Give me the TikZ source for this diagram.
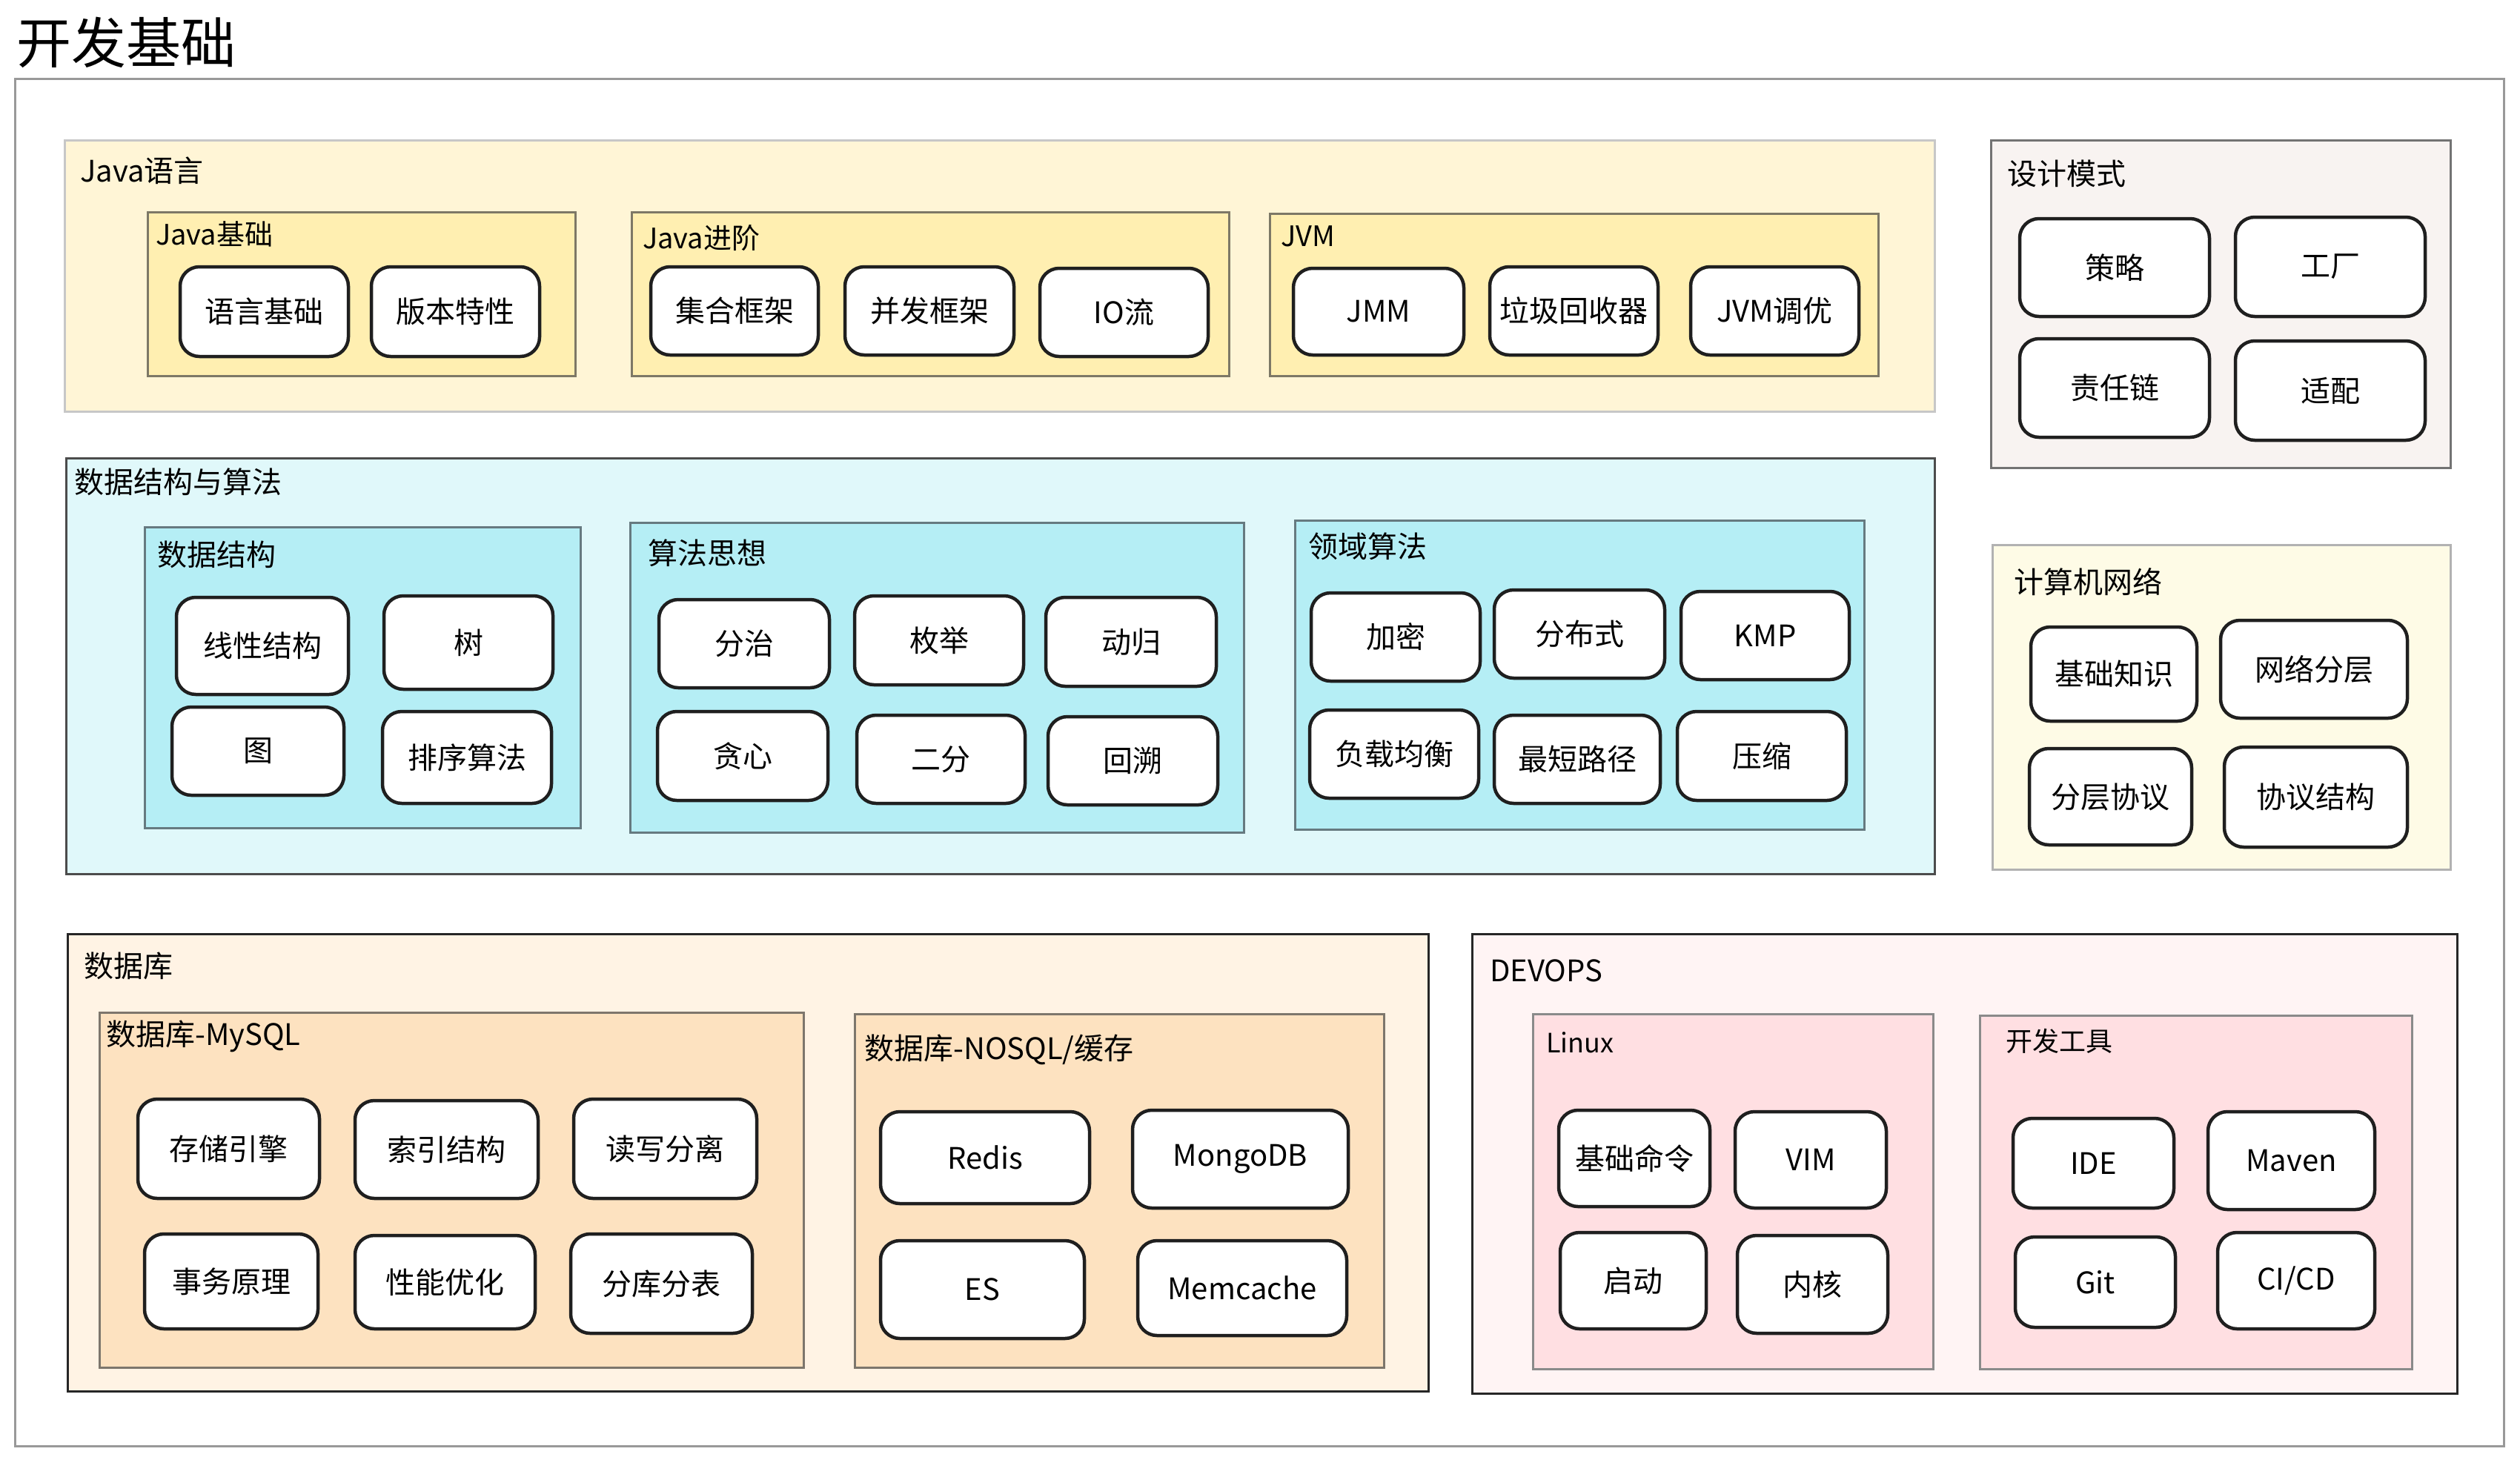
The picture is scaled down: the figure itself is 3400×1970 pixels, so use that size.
\documentclass[tikz,border=0pt]{standalone}
\usepackage{fontspec}
\setmainfont{Noto Sans CJK SC}
\begin{document}
\begin{tikzpicture}[x=1pt,y=-1pt,
  wbox/.style={draw=black!88,line width=4.5pt,fill=white,rounded corners=26pt,inner sep=0pt,font=\fontsize{40}{44}\selectfont},
  grp/.style={line width=3pt,inner sep=0pt},
  glabel/.style={anchor=west,inner sep=0pt,font=\fontsize{40}{44}\selectfont},
  slabel/.style={anchor=west,inner sep=0pt,font=\fontsize{36}{40}\selectfont}]
\definecolor{ylA}{HTML}{FFF5D6}\definecolor{ylB}{HTML}{FFEFB1}\definecolor{ylS}{HTML}{7D7866}
\definecolor{cyA}{HTML}{E0F8FA}\definecolor{cyB}{HTML}{B5EEF5}\definecolor{cyS}{HTML}{667A80}
\definecolor{orA}{HTML}{FFF3E4}\definecolor{orB}{HTML}{FDE2C0}\definecolor{orS}{HTML}{7D766C}
\definecolor{pkA}{HTML}{FFF4F4}\definecolor{pkB}{HTML}{FFDFE2}\definecolor{pkS}{HTML}{8A8A8A}
\definecolor{dpA}{HTML}{F8F3F1}\definecolor{nwA}{HTML}{FEFBE6}
\newcommand\wb[6]{\pgfmathsetmacro\ww{#4-#2}\pgfmathsetmacro\hh{#5-#3}%
  \node[wbox,minimum width=\ww pt,minimum height=\hh pt] (#1) at ({(#2+#4)/2},{(#3+#5)/2}) {#6};}
\newcommand\gb[6]{\pgfmathsetmacro\ww{#4-#2}\pgfmathsetmacro\hh{#5-#3}%
  \node[grp,#6,minimum width=\ww pt,minimum height=\hh pt] (#1) at ({(#2+#4)/2},{(#3+#5)/2}) {};}
\useasboundingbox[fill=white] (0,0) rectangle (3400,1970);
% title and outer frame
\node[anchor=west,inner sep=0pt,font=\fontsize{74}{80}\selectfont] (title) at (22,57) {开发基础};
\gb{outer}{20}{106}{3378}{1951}{draw=black!40}
% Java
\gb{java}{87}{189}{2610}{555}{fill=ylA,draw=black!22}
\node[glabel] (javaL) at (108,230) {Java语言};
\gb{jb}{199}{286}{776}{507}{fill=ylB,draw=ylS}
\node[glabel,font=\fontsize{38}{42}\selectfont] (jbL) at (210,316) {Java基础};
\wb{n1}{243}{360}{470}{481}{语言基础}
\wb{n2}{501}{360}{728}{481}{版本特性}
\gb{jj}{852}{286}{1658}{507}{fill=ylB,draw=ylS}
\node[glabel,font=\fontsize{38}{42}\selectfont] (jjL) at (867,321) {Java进阶};
\wb{n3}{878}{360}{1104}{479}{集合框架}
\wb{n4}{1140}{360}{1368}{479}{并发框架}
\wb{n5}{1403}{362}{1630}{481}{IO流}
\gb{jvm}{1713}{288}{2534}{507}{fill=ylB,draw=ylS}
\node[glabel,font=\fontsize{38}{42}\selectfont] (jvmL) at (1728,319) {JVM};
\wb{n6}{1745}{362}{1975}{479}{JMM}
\wb{n7}{2010}{360}{2237}{479}{垃圾回收器}
\wb{n8}{2281}{360}{2508}{479}{JVM调优}
% design patterns
\gb{dp}{2686}{189}{3306}{631}{fill=dpA,draw=black!55}
\node[glabel] (dpL) at (2708,234) {设计模式};
\wb{d1}{2725}{295}{2981}{427}{策略}
\wb{d2}{3016}{293}{3272}{427}{工厂}
\wb{d3}{2725}{457}{2981}{590}{责任链}
\wb{d4}{3016}{460}{3272}{594}{适配}
% data structures & algorithms
\gb{ds}{89}{618}{2610}{1179}{fill=cyA,draw=black!70}
\node[glabel] (dsL) at (100,650) {数据结构与算法};
\gb{ds1}{195}{711}{783}{1117}{fill=cyB,draw=cyS}
\node[glabel] (ds1L) at (212,748) {数据结构};
\wb{s1}{238}{806}{470}{937}{线性结构}
\wb{s2}{518}{804}{746}{930}{树}
\wb{s3}{232}{954}{464}{1073}{图}
\wb{s4}{516}{960}{744}{1084}{排序算法}
\gb{ds2}{850}{705}{1678}{1123}{fill=cyB,draw=cyS}
\node[glabel] (ds2L) at (874,746) {算法思想};
\wb{a1}{889}{809}{1119}{928}{分治}
\wb{a2}{1153}{804}{1381}{924}{枚举}
\wb{a3}{1411}{806}{1641}{926}{动归}
\wb{a4}{887}{960}{1117}{1080}{贪心}
\wb{a5}{1156}{965}{1383}{1084}{二分}
\wb{a6}{1414}{967}{1643}{1086}{回溯}
\gb{ds3}{1747}{702}{2515}{1119}{fill=cyB,draw=cyS}
\node[glabel] (ds3L) at (1765,737) {领域算法};
\wb{b1}{1769}{800}{1997}{919}{加密}
\wb{b2}{2016}{796}{2246}{915}{分布式}
\wb{b3}{2268}{798}{2495}{917}{KMP}
\wb{b4}{1767}{958}{1995}{1077}{负载均衡}
\wb{b5}{2016}{965}{2240}{1084}{最短路径}
\wb{b6}{2263}{960}{2491}{1080}{压缩}
% network
\gb{nw}{2688}{735}{3306}{1173}{fill=nwA,draw=black!30}
\node[glabel] (nwL) at (2717,785) {计算机网络};
\wb{w1}{2740}{846}{2964}{973}{基础知识}
\wb{w2}{2996}{837}{3248}{969}{网络分层}
\wb{w3}{2738}{1010}{2957}{1140}{分层协议}
\wb{w4}{3001}{1008}{3248}{1143}{协议结构}
% database
\gb{db}{91}{1260}{1927}{1877}{fill=orA,draw=black!85}
\node[glabel] (dbL) at (113,1303) {数据库};
\gb{db1}{134}{1366}{1084}{1845}{fill=orB,draw=orS}
\node[glabel] (db1L) at (143,1398) {数据库-MySQL};
\wb{m1}{186}{1483}{431}{1617}{存储引擎}
\wb{m2}{479}{1485}{726}{1617}{索引结构}
\wb{m3}{774}{1483}{1021}{1617}{读写分离}
\wb{m4}{195}{1665}{429}{1793}{事务原理}
\wb{m5}{479}{1667}{722}{1793}{性能优化}
\wb{m6}{770}{1665}{1015}{1799}{分库分表}
\gb{db2}{1153}{1368}{1867}{1845}{fill=orB,draw=orS}
\node[glabel] (db2L) at (1166,1416) {数据库-NOSQL/缓存};
\wb{r1}{1188}{1500}{1470}{1624}{Redis}
\wb{r2}{1528}{1498}{1819}{1630}{MongoDB}
\wb{r3}{1188}{1674}{1463}{1806}{ES}
\wb{r4}{1535}{1674}{1817}{1802}{Memcache}
% devops
\gb{dv}{1986}{1260}{3315}{1880}{fill=pkA,draw=black!85}
\node[glabel] (dvL) at (2010,1310) {DEVOPS};
\gb{dv1}{2068}{1368}{2608}{1847}{fill=pkB,draw=pkS}
\node[slabel] (dv1L) at (2086,1407) {Linux};
\wb{l1}{2103}{1498}{2307}{1628}{基础命令}
\wb{l2}{2341}{1500}{2545}{1630}{VIM}
\wb{l3}{2105}{1663}{2302}{1793}{启动}
\wb{l4}{2344}{1667}{2547}{1799}{内核}
\gb{dv2}{2671}{1370}{3254}{1847}{fill=pkB,draw=pkS}
\node[slabel] (dv2L) at (2706,1405) {开发工具};
\wb{t1}{2716}{1509}{2933}{1630}{IDE}
\wb{t2}{2979}{1500}{3204}{1632}{Maven}
\wb{t3}{2719}{1669}{2935}{1791}{Git}
\wb{t4}{2992}{1663}{3204}{1793}{CI/CD}
\end{tikzpicture}
\end{document}
